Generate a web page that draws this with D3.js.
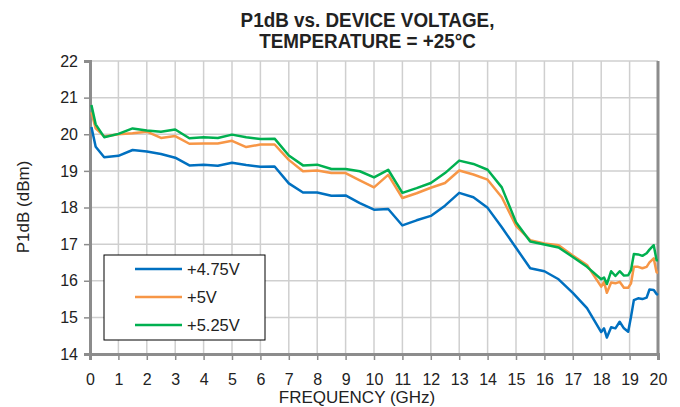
<!DOCTYPE html>
<html>
<head>
<meta charset="utf-8">
<script src="https://cdn.jsdelivr.net/npm/d3@7"></script>
<style>
  body { margin: 0; background: #fff; }
  svg text { font-family: "Liberation Sans", Arial, sans-serif; fill: #222; }
</style>
</head>
<body>
<div id="chart"></div>
<script>
// frequency points (GHz)
var freq = [0.05, 0.2, 0.5, 1, 1.5, 2, 2.5, 3, 3.5, 4, 4.5, 5, 5.5, 6, 6.5, 7, 7.5, 8, 8.5, 9, 9.5, 10,
            10.5, 11, 11.5, 12, 12.5, 13, 13.5, 14, 14.5, 15, 15.5, 16, 16.5, 17, 17.5,
            18, 18.1, 18.2, 18.35, 18.5, 18.65, 18.8, 18.95, 19.05, 19.15, 19.3, 19.45, 19.6, 19.7, 19.85, 19.95, 20]

// P1dB values (dBm) for each supply voltage
var v475 = [20.2, 19.66, 19.37, 19.41, 19.57, 19.53, 19.46, 19.36, 19.15, 19.17, 19.14, 19.22, 19.16, 19.11, 19.12, 18.66, 18.41, 18.41, 18.32, 18.33, 18.12, 17.94,
            17.96, 17.51, 17.65, 17.77, 18.05, 18.4, 18.28, 17.99, 17.46, 16.9, 16.34, 16.26, 16.04, 15.67, 15.25,
            14.6, 14.7, 14.45, 14.73, 14.7, 14.88, 14.7, 14.61, 15.02, 15.47, 15.52, 15.5, 15.54, 15.76, 15.75, 15.64, 15.61]
var v5 = [20.6, 20.16, 19.94, 20.0, 20.03, 20.07, 19.9, 19.95, 19.74, 19.75, 19.75, 19.82, 19.65, 19.72, 19.72, 19.3, 18.99, 19.01, 18.94, 18.94, 18.74, 18.55,
          18.89, 18.26, 18.39, 18.54, 18.67, 19.01, 18.9, 18.76, 18.28, 17.5, 17.11, 17.02, 16.97, 16.69, 16.43,
          15.84, 15.97, 15.67, 15.95, 15.93, 15.97, 15.81, 15.81, 15.93, 16.38, 16.38, 16.34, 16.38, 16.5, 16.61, 16.23, 16.22]
var v525 = [20.8, 20.27, 19.92, 20.01, 20.16, 20.1, 20.07, 20.13, 19.89, 19.92, 19.9, 19.99, 19.92, 19.87, 19.88, 19.42, 19.15, 19.17, 19.05, 19.05, 18.99, 18.82,
            19.03, 18.4, 18.53, 18.67, 18.94, 19.28, 19.19, 19.03, 18.55, 17.6, 17.07, 16.99, 16.91, 16.65, 16.38,
            16.04, 16.09, 15.91, 16.26, 16.13, 16.26, 16.14, 16.15, 16.29, 16.73, 16.72, 16.68, 16.75, 16.85, 16.97, 16.56, 16.56]

var seriesNames = ["+4.75V", "+5V", "+5.25V"]
var seriesColors = ["#0070c0", "#f79646", "#00b050"]
var xTicks = d3.range(0, 21, 1)
var yTicks = d3.range(14, 23, 1)

var width = 680,
    height = 407
var plot = {left: 90, right: 658, top: 61, bottom: 354}

var svg = d3.select("#chart")
  .append("svg")
    .attr("width", width)
    .attr("height", height)

var x = d3.scaleLinear().domain([0, 20]).range([plot.left, plot.right])
var y = d3.scaleLinear().domain([14, 22]).range([plot.bottom, plot.top])

// grid
svg.append("g")
  .selectAll("line.vg")
  .data(xTicks.slice(1, -1))
  .enter().append("line")
    .attr("x1", d => x(d)).attr("x2", d => x(d))
    .attr("y1", plot.top).attr("y2", plot.bottom)
    .attr("stroke", "#cfcfcf").attr("stroke-width", 1.5)
svg.append("g")
  .selectAll("line.hg")
  .data(yTicks.slice(1))
  .enter().append("line")
    .attr("x1", plot.left).attr("x2", plot.right)
    .attr("y1", d => y(d)).attr("y2", d => y(d))
    .attr("stroke", "#cfcfcf").attr("stroke-width", 1.5)

// right border
svg.append("line")
  .attr("x1", plot.right).attr("x2", plot.right)
  .attr("y1", plot.top).attr("y2", plot.bottom)
  .attr("stroke", "#8c8c8c").attr("stroke-width", 3)

// axes
var xAxis = svg.append("g")
  .attr("transform", "translate(0," + plot.bottom + ")")
  .call(d3.axisBottom(x).tickValues(xTicks).tickSize(6).tickPadding(14).tickFormat(d3.format("d")))
var yAxis = svg.append("g")
  .attr("transform", "translate(" + plot.left + ",0)")
  .call(d3.axisLeft(y).tickValues(yTicks).tickSize(6).tickPadding(6).tickFormat(d3.format("d")))

;[xAxis, yAxis].forEach(function(a) {
  a.select(".domain").attr("stroke", "#8c8c8c").attr("stroke-width", 3)
  a.selectAll(".tick line").attr("stroke", "#8c8c8c").attr("stroke-width", 1.5)
  a.selectAll(".tick text").style("font-size", "16px").attr("fill", "#222")
})

// lines
var line = d3.line()
  .x(d => x(d[0]))
  .y(d => y(d[1]))

var allSeries = [v475, v5, v525]
allSeries.forEach(function(vals, i) {
  svg.append("path")
    .datum(freq.map((f, k) => [f, vals[k]]))
    .attr("d", line)
    .attr("fill", "none")
    .attr("stroke", seriesColors[i])
    .attr("stroke-width", 2.5)
    .attr("stroke-linejoin", "round")
})

// title (slightly condensed, like the original)
var titleLines = ["P1dB vs. DEVICE VOLTAGE,", "TEMPERATURE = +25°C"]
titleLines.forEach(function(t, i) {
  svg.append("text")
    .attr("transform", "translate(367.5," + (26.5 + i * 21.7) + ") scale(0.92,1)")
    .attr("text-anchor", "middle")
    .style("font-size", "20.5px").style("font-weight", "bold")
    .text(t)
})

// axis labels
svg.append("text")
  .attr("x", 357).attr("y", 403)
  .attr("text-anchor", "middle")
  .style("font-size", "17px")
  .text("FREQUENCY (GHz)")
svg.append("text")
  .attr("transform", "translate(29,207) rotate(-90)")
  .attr("text-anchor", "middle")
  .style("font-size", "17px")
  .text("P1dB (dBm)")

// legend
var legend = svg.append("g").attr("transform", "translate(104,255)")
legend.append("rect")
  .attr("width", 161).attr("height", 85)
  .attr("fill", "#fff").attr("stroke", "#000").attr("stroke-width", 1)
seriesNames.forEach(function(name, i) {
  var ly = 14 + i * 28
  legend.append("line")
    .attr("x1", 31).attr("x2", 78)
    .attr("y1", ly).attr("y2", ly)
    .attr("stroke", seriesColors[i]).attr("stroke-width", 2.5)
  legend.append("text")
    .attr("x", 83).attr("y", ly + 6)
    .style("font-size", "16.5px")
    .text(name)
})
</script>
</body>
</html>
